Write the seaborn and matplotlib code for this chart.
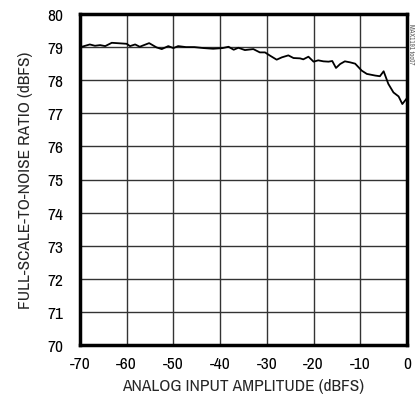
import numpy as np
import pandas as pd
import matplotlib
matplotlib.use('Agg')
import matplotlib.pyplot as plt
import seaborn as sns

# Values
amplitude = [-69.6, -67.9, -66.8, -65.7, -64.6, -63.2, -60.0, -59.3, -58.2, -57.2,
             -56.5, -55.2, -53.6, -52.5, -51.1, -50.0, -49.0, -47.3, -45.5, -43.5,
             -41.5, -39.5, -38.2, -37.1, -36.1, -34.7, -32.9, -31.5, -30.4, -29.3,
             -27.9, -26.8, -25.4, -24.3, -22.9, -22.2, -21.1, -20.0, -19.0, -17.9,
             -16.8, -16.0, -15.2, -14.3, -13.3, -12.2, -11.1, -9.7, -8.6, -6.8,
             -5.8, -5.0, -4.0, -2.9, -1.8, -1.0, -0.05]
fsnr = [79.01, 79.08, 79.04, 79.06, 79.03, 79.13, 79.10, 79.03, 79.08, 79.01,
        79.05, 79.12, 78.99, 78.94, 79.03, 78.97, 79.03, 79.00, 79.00, 78.97,
        78.95, 78.97, 79.01, 78.92, 78.98, 78.91, 78.94, 78.84, 78.84, 78.74,
        78.62, 78.69, 78.75, 78.67, 78.66, 78.63, 78.71, 78.56, 78.60, 78.57,
        78.56, 78.58, 78.37, 78.49, 78.57, 78.54, 78.50, 78.29, 78.19, 78.14,
        78.12, 78.27, 77.89, 77.63, 77.51, 77.28, 77.45]

x_ticks = [-70, -60, -50, -40, -30, -20, -10, 0]
y_ticks = list(range(70, 81))

df = pd.DataFrame({'amp': amplitude, 'fsnr': fsnr})

sns.set_style('white')
plt.rcParams['font.family'] = ['Archivo Narrow', 'DejaVu Sans']

fig = plt.figure(figsize=(4.15, 4.02), dpi=100)
ax = fig.add_axes([80 / 415, 56 / 402, 327 / 415, 331 / 402])

sns.lineplot(data=df, x='amp', y='fsnr', ax=ax, color='black', linewidth=1.3)

ax.set_xlim(-70, 0)
ax.set_ylim(70, 80)
ax.set_xticks(x_ticks)
ax.set_yticks(y_ticks)
ax.set_xticklabels([str(t) for t in x_ticks])
ax.grid(True, color='#333333', linewidth=1.0)
ax.tick_params(axis='both', length=0, labelsize=12.5, colors='black')
ax.tick_params(axis='x', pad=8)
ax.tick_params(axis='y', pad=12)
for s in ax.spines.values():
    s.set_color('black')
    s.set_linewidth(2.5)

ax.set_xlabel('ANALOG INPUT AMPLITUDE (dBFS)', fontsize=12.5, labelpad=5)
ax.set_ylabel('FULL-SCALE-TO-NOISE RATIO (dBFS)', fontsize=12.5, labelpad=10)

fig.text(0.99, 0.94, 'MAX1191 toc07', rotation=270, fontsize=5, color='#555555',
         ha='center', va='top')

fig.savefig('out.png', dpi=100)
